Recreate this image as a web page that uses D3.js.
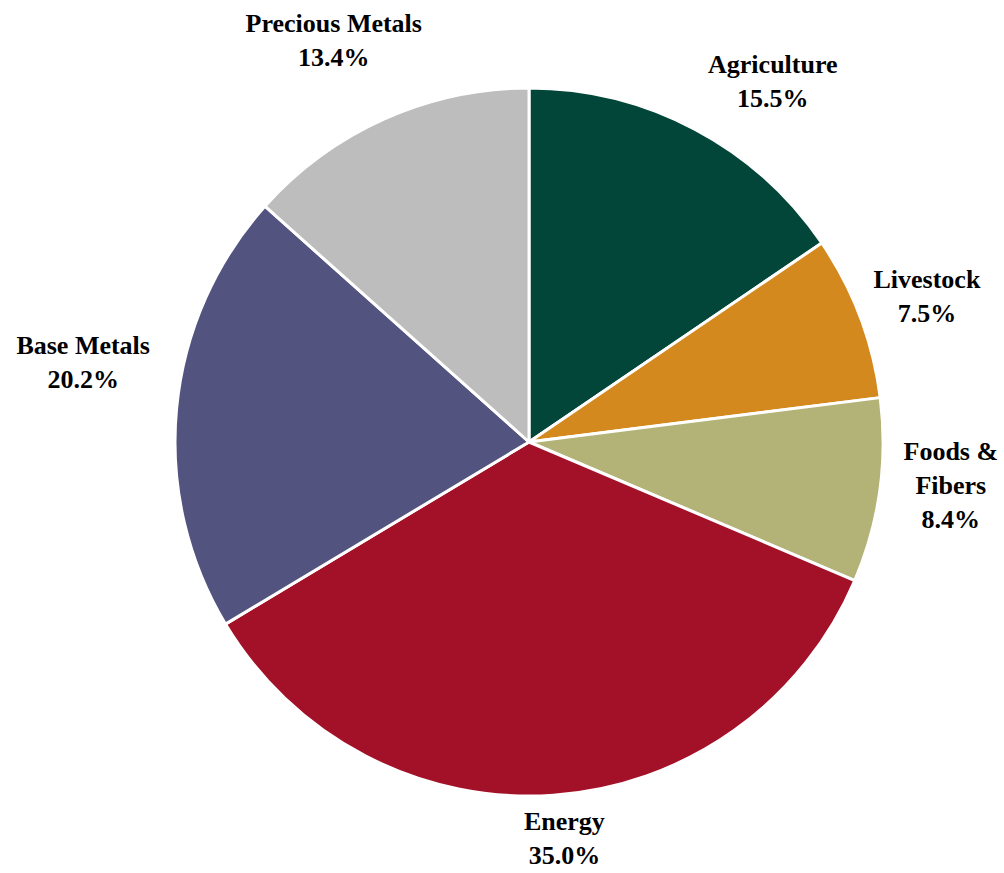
<!DOCTYPE html>
<html><head><meta charset="utf-8">
<script src="https://cdn.jsdelivr.net/npm/d3@7"></script>
<style>body{margin:0;background:#fff;} svg{display:block;}</style>
</head><body>
<script>
const categories = ["Agriculture", "Livestock", "Foods & Fibers", "Energy", "Base Metals", "Precious Metals"];
const values = [15.5, 7.5, 8.4, 35.0, 20.2, 13.4];
const colors = ["#02463A", "#D4891E", "#B3B277", "#A31129", "#535380", "#BDBDBD"];
const labelLines = [["Agriculture"], ["Livestock"], ["Foods &", "Fibers"], ["Energy"], ["Base Metals"], ["Precious Metals"]];
// label placement (polar: degrees clockwise from top, distance from centre)
const labelAngle = [34.0, 69.8, 95.8, 174.9, 280.2, 334.1];
const labelDist = [436, 424, 424, 398, 453, 447];

const W = 1004, H = 873, cx = 529, cy = 442, R = 354;
const svg = d3.select("body").append("svg").attr("width", W).attr("height", H);
const g = svg.append("g").attr("transform", `translate(${cx},${cy})`);

const data = categories.map((c, i) => ({cat: c, value: values[i], i}));
const pie = d3.pie().value(d => d.value).sort(null);
const arc = d3.arc().innerRadius(0).outerRadius(R);
g.selectAll("path").data(pie(data)).join("path")
  .attr("d", arc).attr("fill", d => colors[d.data.i])
  .attr("stroke", "#fff").attr("stroke-width", 3).attr("stroke-linejoin", "round");

const lh = 34;
data.forEach((d, i) => {
  const lines = labelLines[i].concat([d3.format(".1f")(d.value) + "%"]);
  const a = labelAngle[i] * Math.PI / 180;
  const x = labelDist[i] * Math.sin(a), y = -labelDist[i] * Math.cos(a);
  const t = g.append("text").attr("text-anchor", "middle")
    .attr("font-family", "'Liberation Serif', 'Times New Roman', serif")
    .attr("font-weight", "bold").attr("font-size", 26).attr("fill", "#000");
  lines.forEach((ln, k) => {
    t.append("tspan").attr("x", x).attr("y", y + (k - (lines.length - 1) / 2) * lh + 9).text(ln);
  });
});
</script>
</body></html>
